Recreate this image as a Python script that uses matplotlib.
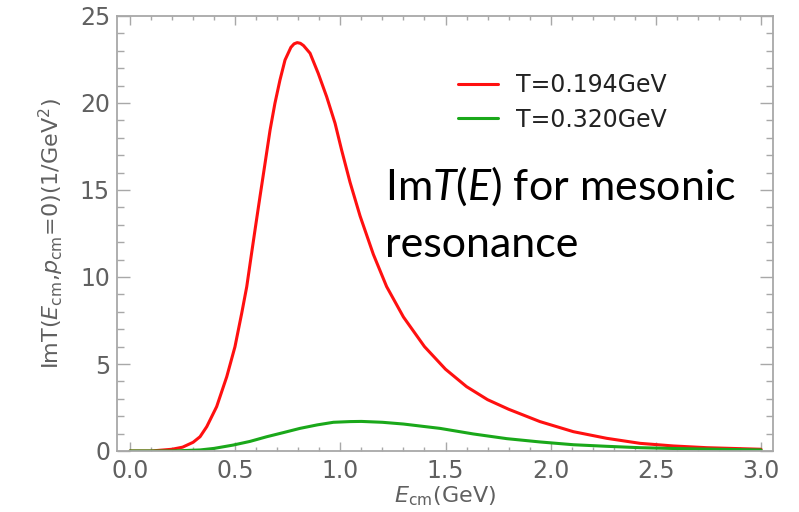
import matplotlib
matplotlib.use("Agg")
import matplotlib.pyplot as plt
from matplotlib.ticker import MultipleLocator

# ---- data ----
red_x = [0.0, 0.1, 0.2, 0.25, 0.3, 0.333, 0.365, 0.412, 0.46, 0.499, 0.531, 0.555,
         0.578, 0.598, 0.618, 0.642, 0.666, 0.689, 0.713, 0.737, 0.765, 0.78,
         0.795, 0.81, 0.825, 0.856, 0.895, 0.935, 0.975, 1.006, 1.046, 1.094,
         1.157, 1.22, 1.30, 1.40, 1.50, 1.60, 1.70, 1.80, 1.949, 2.108,
         2.266, 2.425, 2.583, 2.742, 3.0]
red_y = [0.0, 0.0, 0.1, 0.22, 0.5, 0.82, 1.40, 2.55, 4.27, 5.99, 7.91, 9.44,
         11.36, 13.0, 14.62, 16.53, 18.45, 19.98, 21.32, 22.47, 23.2, 23.4,
         23.47, 23.43, 23.3, 22.86, 21.7, 20.36, 18.83, 17.3, 15.45, 13.5,
         11.3, 9.45, 7.7, 6.0, 4.7, 3.7, 2.95, 2.4, 1.69, 1.11,
         0.73, 0.44, 0.29, 0.19, 0.10]

green_x = [0.0, 0.2, 0.333, 0.4, 0.49, 0.57, 0.65, 0.73, 0.808, 0.89, 0.967,
           1.046, 1.1, 1.2, 1.3, 1.39, 1.474, 1.632, 1.791, 1.949, 2.108, 2.266,
           2.425, 2.6, 2.742, 3.0]
green_y = [0.0, 0.0, 0.06, 0.15, 0.34, 0.55, 0.82, 1.06, 1.3, 1.5, 1.65,
           1.69, 1.70, 1.65, 1.55, 1.42, 1.30, 0.98, 0.71, 0.52, 0.36, 0.27,
           0.19, 0.14, 0.11, 0.06]

labels = ["T=0.194GeV", "T=0.320GeV"]
x_ticks = [0.0, 0.5, 1.0, 1.5, 2.0, 2.5, 3.0]
y_ticks = [0, 5, 10, 15, 20, 25]

plt.rcParams['font.family'] = ['DejaVu Sans']
plt.rcParams['mathtext.fontset'] = 'dejavusans'
plt.rcParams['mathtext.rm'] = 'Lato'
plt.rcParams['mathtext.it'] = 'Lato:italic'

GRAY = '#a8a8a8'
TXT = '#606060'

fig = plt.figure(figsize=(7.99, 5.12), dpi=100)
ax = fig.add_axes([117/799, 1-451/512, (773-117)/799, (451-16)/512])

ax.plot(red_x, red_y, color='#ff1010', lw=2.2, label=labels[0],
        solid_joinstyle='round', solid_capstyle='round')
ax.plot(green_x, green_y, color='#1aa81a', lw=2.2, label=labels[1],
        solid_joinstyle='round', solid_capstyle='round')

ax.set_xlim(-0.0618, 3.057)
ax.set_ylim(0, 25)
ax.set_xticks(x_ticks)
ax.set_xticklabels([f"{v:.1f}" for v in x_ticks])
ax.set_yticks(y_ticks)
ax.set_yticklabels([str(v) for v in y_ticks])
ax.xaxis.set_minor_locator(MultipleLocator(0.1))
ax.yaxis.set_minor_locator(MultipleLocator(1))

for s in ax.spines.values():
    s.set_color(GRAY)
    s.set_linewidth(1.3)

ax.tick_params(axis='both', which='both', direction='in', color=GRAY,
               labelcolor=TXT, labelsize=17, top=True, right=True, width=1.0)
ax.tick_params(axis='x', which='major', length=6.5, pad=6)
ax.tick_params(axis='x', which='minor', length=3.2)
ax.tick_params(axis='y', which='major', length=9.5, pad=5)
ax.tick_params(axis='y', which='minor', length=5)

ax.set_xlabel(r"$E_{\rm cm}$(GeV)", fontsize=16, color=TXT, labelpad=1)
ax.set_ylabel(r"ImT($E_{\rm cm}$,$p_{\rm cm}$=0)(1/GeV$^2$)", fontsize=16,
              color=TXT, labelpad=10)

leg = ax.legend(loc='upper left', bbox_to_anchor=(458/799, 1-73/512),
                bbox_transform=fig.transFigure, frameon=False, fontsize=17,
                handlelength=1.7, handletextpad=0.75, labelspacing=0.45,
                borderpad=0, borderaxespad=0)
for t in leg.get_texts():
    t.set_color('#222222')

fig.text(385/799, 1-200/512, r"Im$T$($E$) for mesonic", fontsize=31,
         family='Lato', math_fontfamily='custom', color='black', va='baseline', ha='left')
fig.text(385/799, 1-257/512, "resonance", fontsize=31,
         family='Lato', color='black', va='baseline', ha='left')

fig.savefig("out.png", dpi=100)
